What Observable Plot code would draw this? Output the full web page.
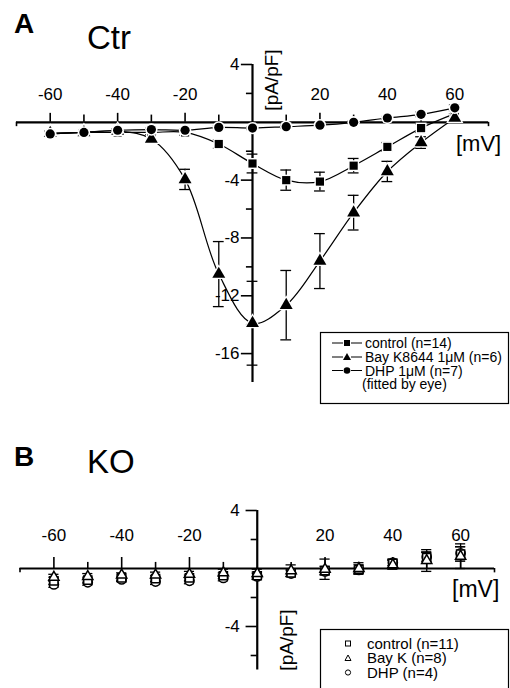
<!DOCTYPE html>
<html><head><meta charset="utf-8">
<script src="https://cdn.jsdelivr.net/npm/d3@7"></script>
<script src="https://cdn.jsdelivr.net/npm/@observablehq/plot@0.6"></script>
<style>
body{margin:0;background:#fff;}
#wrap{position:relative;width:510px;height:688px;overflow:hidden;background:#fff;}
#plotA{position:absolute;left:0;top:0;}
#plotB{position:absolute;left:0;top:460px;}
#overlay{position:absolute;left:0;top:0;pointer-events:none;}
</style></head>
<body>
<div id="wrap"><div id="plotA"></div><div id="plotB"></div></div>
<script>
const FONT = "'Liberation Sans', Arial, Helvetica, sans-serif";

// ---------- data ----------
const voltages = [-60,-50,-40,-30,-20,-10,0,10,20,30,40,50,60];

// Panel A (Ctr)
const ctrControl    = [-0.8,-0.7,-0.7,-0.7,-0.7,-1.5,-2.85,-4.0,-4.1,-3.0,-1.7,-0.4,0.6];
const ctrControlErr = [0.15,0.15,0.15,0.15,0.2,0.3,0.65,0.7,0.65,0.5,0.3,0.3,0.3];
const ctrBayK       = [-0.75,-0.7,-0.6,-1.15,-3.95,-10.5,-13.9,-12.65,-9.6,-6.25,-3.4,-1.4,0.3];
const ctrBayKErr    = [0.15,0.15,0.15,0.3,0.7,2.25,2.9,2.4,1.9,1.2,0.7,0.4,0.3];
const ctrDHP        = [-0.8,-0.7,-0.55,-0.5,-0.55,-0.35,-0.4,-0.3,-0.2,0.0,0.3,0.55,1.0];
const ctrDHPErr     = [0.1,0.1,0.1,0.1,0.1,0.1,0.1,0.1,0.1,0.1,0.1,0.15,0.2];

// Panel B (KO)
const koControl    = [-0.85,-0.8,-0.65,-0.7,-0.65,-0.5,-0.5,-0.3,-0.15,-0.05,0.35,0.75,1.0];
const koControlErr = [0.25,0.2,0.2,0.2,0.2,0.2,0.25,0.25,0.3,0.3,0.3,0.4,0.5];
const koBayK       = [-0.6,-0.55,-0.45,-0.45,-0.4,-0.3,-0.35,-0.15,-0.05,0.0,0.25,0.55,0.85];
const koBayKErr    = [0.2,0.2,0.15,0.2,0.2,0.25,0.3,0.4,0.7,0.4,0.3,0.75,0.85];
const koDHP        = [-1.1,-0.95,-0.75,-0.9,-0.85,-0.65,-0.55,-0.35,-0.2,-0.1,0.4,0.8,1.05];
const koDHPErr     = [0.2,0.2,0.15,0.2,0.2,0.2,0.2,0.2,0.2,0.2,0.2,0.3,0.45];

// tick labels
const xMajor  = [-60,-40,-20,20,40,60];
const xMinor  = [-50,-30,-10,10,30,50];
const yMajorA = [4,-4,-8,-12,-16];
const yMinorA = [2,-2,-6,-10,-14];
const yMajorB = [4,-4];
const yMinorB = [2,-2,-6];

// legend texts
const legendA = ["control (n=14)", "Bay K8644 1\u03bcM (n=6)", "DHP 1\u03bcM (n=7)", "(fitted by eye)"];
const legendB = ["control (n=11)", "Bay K (n=8)", "DHP (n=4)"];

// ---------- helpers ----------
const rows = (vals, errs) => voltages.map((v, i) => ({v, y: vals[i], e: errs[i]}));

function errorBars(data, capHalf, sw) {
  return [
    Plot.ruleX(data, {x: "v", y1: d => d.y - d.e, y2: d => d.y + d.e, strokeWidth: sw}),
    Plot.ruleY(data, {y: d => d.y + d.e, x1: d => d.v - capHalf, x2: d => d.v + capHalf, strokeWidth: sw}),
    Plot.ruleY(data, {y: d => d.y - d.e, x1: d => d.v - capHalf, x2: d => d.v + capHalf, strokeWidth: sw})
  ];
}

function axes(o) {
  return [
    Plot.ruleY([0], {x1: -70, x2: 70, strokeWidth: 2.2}),
    Plot.ruleX([-70, 70], {y1: 0, y2: -o.endTick, strokeWidth: 1.6}),
    Plot.ruleX([0], {y1: o.yMin, y2: 4, strokeWidth: 2.2}),
    Plot.ruleX(xMajor, {y1: 0, y2: o.xMajLen, strokeWidth: 1.6}),
    Plot.ruleX(xMinor, {y1: 0, y2: o.xMinLen, strokeWidth: 1.6}),
    Plot.ruleY(o.yMajor, {x1: -3.3, x2: 0, strokeWidth: 1.6}),
    Plot.ruleY(o.yMinor, {x1: -1.8, x2: 0, strokeWidth: 1.6}),
    Plot.text(xMajor, {x: d => d, y: 0, dy: o.xLabDy, text: d => String(d), fontSize: 17, fill: "black"}),
    Plot.text(o.yMajor, {x: 0, y: d => d, dx: o.yLabDx, textAnchor: "end", text: d => String(d), fontSize: 17, fill: "black"})
  ];
}

// ---------- Panel A ----------
const aControl = rows(ctrControl, ctrControlErr);
const aBayK = rows(ctrBayK, ctrBayKErr);
const aDHP = rows(ctrDHP, ctrDHPErr);

const filledDot = (data, symbol, r) => [
  Plot.dot(data, {x: "v", y: "y", symbol, r: r + 1.6, fill: "white", stroke: "none"}),
  Plot.dot(data, {x: "v", y: "y", symbol, r, fill: "black", stroke: "none"})
];

const plotA = Plot.plot({
  width: 510, height: 400,
  marginTop: 64, marginBottom: 18, marginLeft: 16, marginRight: 22,
  x: {domain: [-70, 70], axis: null},
  y: {domain: [-18, 4], axis: null},
  style: {fontFamily: FONT, background: "transparent", overflow: "visible", color: "black"},
  marks: [
    ...axes({yMin: -18, endTick: 0.3, xMajLen: 0.62, xMinLen: 0.5, yMajor: yMajorA, yMinor: yMinorA, xLabDy: -28, yLabDx: -13}),
    Plot.line(aControl, {x: "v", y: "y", curve: "catmull-rom", strokeWidth: 1.2}),
    Plot.line(aBayK, {x: "v", y: "y", curve: "catmull-rom", strokeWidth: 1.2}),
    Plot.line(aDHP, {x: "v", y: "y", curve: "catmull-rom", strokeWidth: 1.2}),
    ...errorBars(aControl, 1.6, 1.3),
    ...errorBars(aBayK, 1.6, 1.3),
    ...errorBars(aDHP, 1.6, 1.3),
    ...filledDot(aControl, "square", 4.6),
    ...filledDot(aBayK, "triangle", 4.8),
    ...filledDot(aDHP, "circle", 4.6)
  ]
});
document.getElementById("plotA").appendChild(plotA);

// ---------- Panel B ----------
const bControl = rows(koControl, koControlErr);
const bBayK = rows(koBayK, koBayKErr);
const bDHP = rows(koDHP, koDHPErr);

const openDot = (data, symbol, r) =>
  Plot.dot(data, {x: "v", y: "y", symbol, r, fill: "white", stroke: "black", strokeWidth: 1.5});

const plotB = Plot.plot({
  width: 510, height: 228,
  marginTop: 50, marginBottom: 18.5, marginLeft: 19.5, marginRight: 16,
  x: {domain: [-70, 70], axis: null},
  y: {domain: [-7, 4], axis: null},
  style: {fontFamily: FONT, background: "transparent", overflow: "visible", color: "black"},
  marks: [
    ...axes({yMin: -7, endTick: 0.3, xMajLen: 0.76, xMinLen: 0.42, yMajor: yMajorB, yMinor: yMinorB, xLabDy: -32.5, yLabDx: -17.5}),
    ...errorBars(bControl, 1.5, 1.3),
    ...errorBars(bBayK, 1.5, 1.3),
    ...errorBars(bDHP, 1.5, 1.3),
    openDot(bDHP, "circle", 4.6),
    openDot(bControl, "square", 4.6),
    openDot(bBayK, "triangle", 3.8)
  ]
});
document.getElementById("plotB").appendChild(plotB);

// ---------- overlay: panel letters, titles, units, legends ----------
const NS = "http://www.w3.org/2000/svg";
const ov = document.createElementNS(NS, "svg");
ov.setAttribute("id", "overlay");
ov.setAttribute("width", 510);
ov.setAttribute("height", 688);
ov.setAttribute("font-family", FONT);
document.getElementById("wrap").appendChild(ov);

function el(tag, attrs, text) {
  const e = document.createElementNS(NS, tag);
  for (const k in attrs) e.setAttribute(k, attrs[k]);
  if (text != null) e.textContent = text;
  ov.appendChild(e);
  return e;
}
// panel A labels
el("text", {x: 14, y: 33, "font-size": 28, "font-weight": "bold"}, "A");
el("text", {x: 87, y: 49, "font-size": 33}, "Ctr");
el("text", {x: 456, y: 151, "font-size": 22}, "[mV]");
el("text", {transform: "translate(271,80) rotate(-90)", "text-anchor": "middle", "dominant-baseline": "central", "font-size": 19}, "[pA/pF]");
// panel B labels
el("text", {x: 14, y: 466, "font-size": 28, "font-weight": "bold"}, "B");
el("text", {x: 87, y: 473, "font-size": 33}, "KO");
el("text", {x: 452, y: 597, "font-size": 23}, "[mV]");
el("text", {transform: "translate(286,640) rotate(-90)", "text-anchor": "middle", "dominant-baseline": "central", "font-size": 19}, "[pA/pF]");

// legend A
el("rect", {x: 320.5, y: 332.5, width: 188, height: 71, fill: "white", stroke: "black", "stroke-width": 1.2});
const baseA = [348, 362, 375.5, 389];
legendA.forEach((t, i) => {
  const b = baseA[i];
  const cy = b - 5;
  if (i < 3) {
    el("line", {x1: 332, x2: 343, y1: cy, y2: cy, stroke: "black", "stroke-width": 1});
    el("line", {x1: 351, x2: 362, y1: cy, y2: cy, stroke: "black", "stroke-width": 1});
    if (i === 0) el("rect", {x: 344, y: cy - 3, width: 6, height: 6, fill: "black"});
    if (i === 1) el("path", {d: `M347,${cy-4}L351,${cy+3}L343,${cy+3}Z`, fill: "black"});
    if (i === 2) el("circle", {cx: 347, cy, r: 3.3, fill: "black"});
    el("text", {x: 365, y: b, "font-size": 14}, t);
  } else {
    el("text", {x: 362, y: b, "font-size": 14}, t);
  }
});

// legend B
el("rect", {x: 320.5, y: 629.5, width: 188, height: 70, fill: "white", stroke: "black", "stroke-width": 1.2});
const baseB = [648.5, 663, 677.5];
legendB.forEach((t, i) => {
  const b = baseB[i];
  const cy = b - 5;
  if (i === 0) el("rect", {x: 345.5, y: cy - 2.5, width: 5, height: 5, fill: "white", stroke: "black", "stroke-width": 1});
  if (i === 1) el("path", {d: `M348,${cy-3}L351,${cy+2.5}L345,${cy+2.5}Z`, fill: "white", stroke: "black", "stroke-width": 1});
  if (i === 2) el("circle", {cx: 348, cy, r: 2.6, fill: "white", stroke: "black", "stroke-width": 1});
  el("text", {x: 367, y: b, "font-size": 15}, t);
});
</script>
</body></html>
